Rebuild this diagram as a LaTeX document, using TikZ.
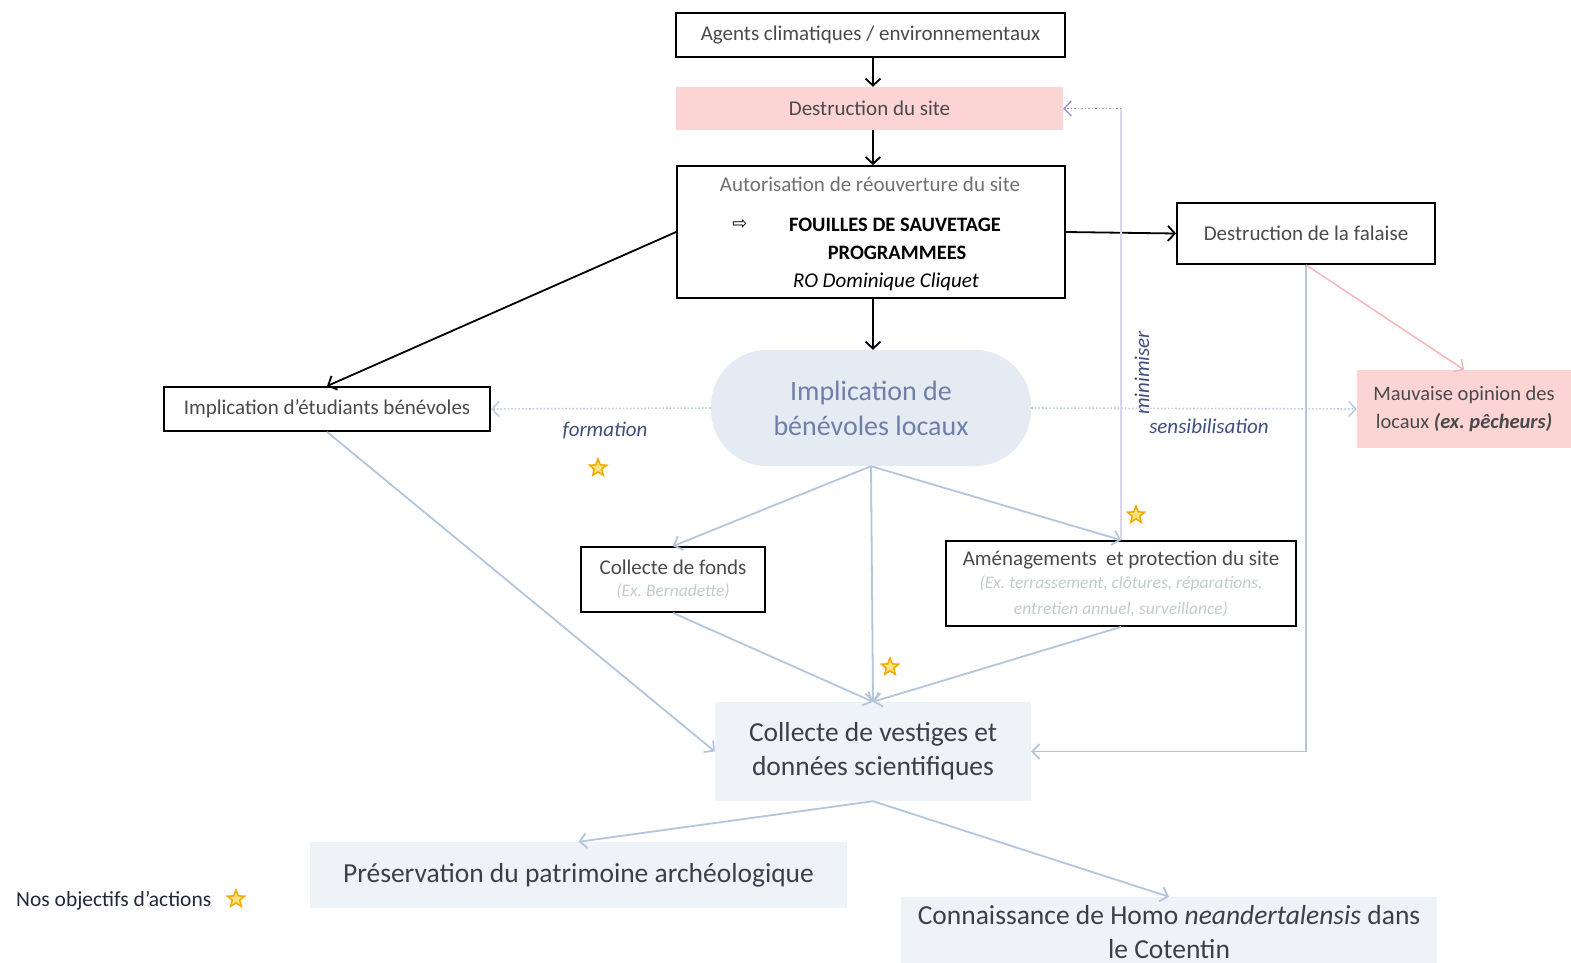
\documentclass[tikz,border=0pt]{standalone}
\usepackage{fontspec}
\setmainfont{Carlito}
\newfontfamily\dejavu{DejaVu Sans}
\usetikzlibrary{arrows.meta,shapes.geometric}
\frenchspacing
\definecolor{pinkfill}{HTML}{FDD4D4}
\definecolor{bluefill}{HTML}{E4EBF3}
\definecolor{palefill}{HTML}{EEF3F8}
\definecolor{conn}{HTML}{B4C6DC}
\definecolor{dotc}{HTML}{BFCDE0}
\definecolor{lav}{HTML}{DCD6EC}
\definecolor{lavdot}{HTML}{A494CC}
\definecolor{pinkline}{HTML}{F6B4B4}
\definecolor{txtgrey}{HTML}{4A4A4A}
\definecolor{lightgrey}{HTML}{707070}
\definecolor{elltext}{HTML}{6F7FA8}
\definecolor{labelblue}{HTML}{3E4E80}
\definecolor{extext}{HTML}{C2CEC8}
\definecolor{starfill}{HTML}{FFE27A}
\definecolor{staredge}{HTML}{F2A900}
\definecolor{bigtext}{HTML}{3A3F4A}
\definecolor{legendc}{HTML}{22283A}
\newcommand{\exfont}{\fontsize{17.5}{22}\selectfont\itshape\color{extext}}
\begin{document}
\begin{tikzpicture}[x=1pt,y=-1pt,
  smallfont/.style={font=\fontsize{21}{26}\selectfont},
  bigfont/.style={font=\fontsize{27.5}{34}\selectfont},
  box/.style={draw=black, line width=1.8pt, fill=white, inner sep=0pt, align=center, smallfont, text=txtgrey},
  pinkbox/.style={draw=none, fill=pinkfill, inner sep=0pt, align=center, smallfont, text=txtgrey},
  palebox/.style={draw=none, fill=palefill, inner sep=0pt, align=center, bigfont, text=bigtext},
  ellbox/.style={draw=none, fill=bluefill, rounded corners=56pt, inner sep=0pt, align=center, font=\fontsize{28}{35}\selectfont, text=elltext},
  plain/.style={inner sep=0pt, align=center},
  tip/.style={-{Straight Barb[length=7pt,width=15pt]}},
  blackarr/.style={tip, draw=black, line width=1.8pt},
  lightarr/.style={tip, draw=conn, line width=1.8pt},
  dotarr/.style={tip, draw=dotc, line width=1.6pt, dotted},
  lbl/.style={inner sep=0pt, font=\fontsize{21}{24}\selectfont\itshape, text=labelblue},
  objstar/.style={star, star points=5, star point ratio=2.3, minimum size=18pt, inner sep=0pt, draw=staredge, fill=starfill, line width=1.5pt}
]
\useasboundingbox[fill=white] (0,0) rectangle (1571,963);

% nodes
\node[box, minimum width=389pt, minimum height=44pt] (agents) at (870.5,35) {Agents climatiques / environnementaux};
\node[pinkbox, minimum width=387pt, minimum height=43pt] (dest) at (869.5,108.5) {Destruction du site};
\node[box, minimum width=388pt, minimum height=132pt] (auto) at (871,232) {};
\node[plain, smallfont, text=lightgrey] (autot) at (870,184) {Autorisation de réouverture du site};
\node[plain, font=\dejavu\fontsize{18}{20}\selectfont, text=black] (sym) at (740,224) {⇨};
\node[plain, font=\fontsize{20.5}{24}\selectfont\bfseries, text=black] (fouil1) at (895,225) {FOUILLES DE SAUVETAGE};
\node[plain, font=\fontsize{20.5}{24}\selectfont\bfseries, text=black] (fouil2) at (897,253) {PROGRAMMEES};
\node[plain, font=\fontsize{21}{24}\selectfont\itshape, text=black] (ro) at (886,282) {RO Dominique Cliquet};

\node[box, minimum width=258pt, minimum height=61pt] (fal) at (1306,233.5) {Destruction de la falaise};
\node[box, minimum width=326pt, minimum height=44pt] (etu) at (327,409) {Implication d’étudiants bénévoles};
\node[ellbox, minimum width=320pt, minimum height=116pt] (ben) at (871,408) {Implication de\\bénévoles locaux};
\node[pinkbox, minimum width=214pt, minimum height=78pt, font=\fontsize{20.5}{28}\selectfont] (mauv) at (1464,409) {Mauvaise opinion des\\locaux \textbf{\textit{(ex. pêcheurs)}}};

\node[box, minimum width=184pt, minimum height=65pt] (fonds) at (673,579.5) {Collecte de fonds\\[-4pt]\exfont (Ex. Bernadette)};
\node[box, minimum width=350pt, minimum height=85pt] (amen) at (1121,583.5) {Aménagements\ \ et protection du site\\[-3pt]\exfont (Ex. terrassement, clôtures, réparations,\\\exfont entretien annuel, surveillance)};

\node[palebox, minimum width=316pt, minimum height=99pt] (vest) at (873,751.5) {Collecte de vestiges et\\données scientifiques};
\node[palebox, minimum width=537pt, minimum height=66pt] (pres) at (578.5,875) {Préservation du patrimoine archéologique};
\node[palebox, minimum width=536pt, minimum height=70pt] (conn) at (1169,932) {Connaissance de Homo \textit{neandertalensis} dans\\le Cotentin};

% labels
\node[lbl] (formation) at (605,430) {formation};
\node[lbl] (sensib) at (1209,426) {sensibilisation};
\node[lbl, rotate=90] (minim) at (1142,373) {minimiser};
\node[plain, anchor=west, font=\fontsize{21.5}{24}\selectfont, text=legendc] (legend) at (16,901) {Nos objectifs d’actions};

% stars
\node[objstar] (st1) at (598,468) {};
\node[objstar] (st2) at (1136,515) {};
\node[objstar] (st3) at (890,667) {};
\node[objstar] (st4) at (236,899) {};

% coordinates
\coordinate (mc) at (amen.north |- dest.east);

% black connectors
\draw[blackarr] (agents.south -| 873,0) -- (dest.north -| 873,0);
\draw[blackarr] (dest.south -| 873,0) -- (auto.north -| 873,0);
\draw[blackarr] (auto.south -| 873,0) -- (ben.north -| 873,0);
\draw[blackarr] (auto.east) -- (fal.west);
\draw[blackarr] (auto.west) -- (etu.north);

% light connectors
\draw[lightarr] (ben.south) -- (fonds.north);
\draw[lightarr] (ben.south) -- (vest.north);
\draw[lightarr] (ben.south) -- (amen.north);
\draw[lightarr] (fonds.south) -- (vest.north);
\draw[lightarr] (amen.south) -- (vest.north);
\draw[lightarr] (etu.south) -- (vest.west);
\draw[lightarr] (fal.south) |- (vest.east);
\draw[lightarr] (vest.south) -- (pres.north);
\draw[lightarr] (vest.south) -- (conn.north);
\draw[tip, draw=pinkline, line width=1.4pt] (fal.south) -- (mauv.north);

% dotted
\draw[dotarr] (ben.west) -- (etu.east);
\draw[dotarr] (ben.east) -- (mauv.west);
\draw[draw=lav, line width=2pt] (amen.north) -- (mc);
\draw[tip, draw=lavdot, line width=1.5pt, dotted] (mc) -- (dest.east);
\end{tikzpicture}
\end{document}
